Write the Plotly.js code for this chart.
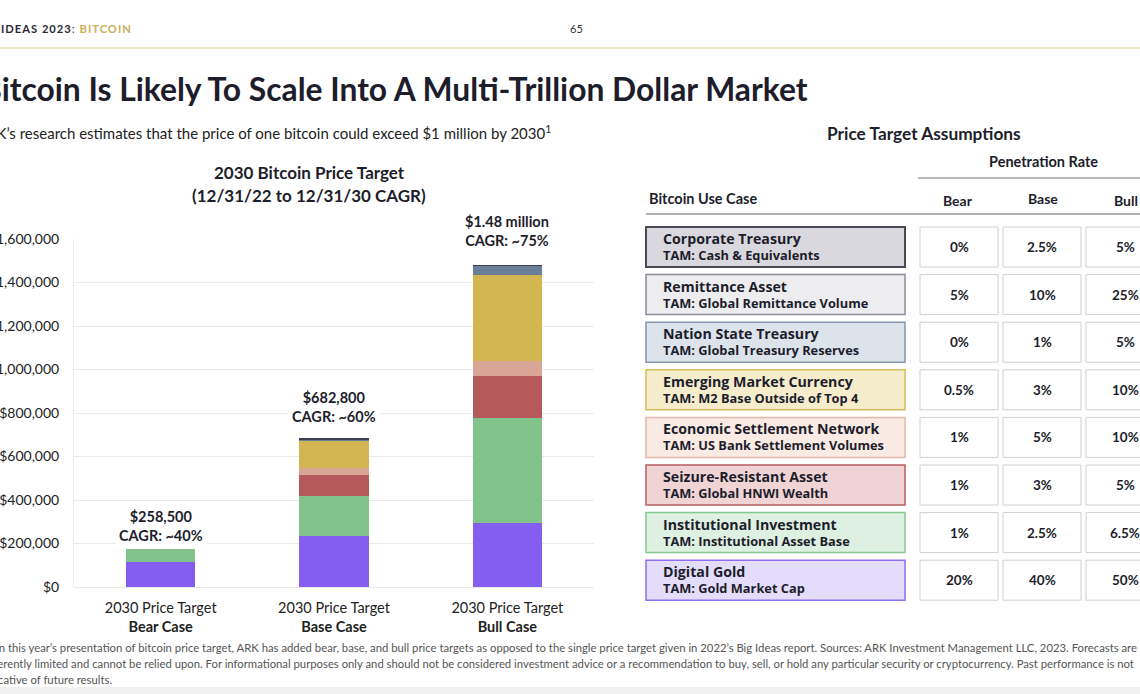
<!DOCTYPE html>
<html>
<head>
<meta charset="utf-8">
<script src="https://cdn.plot.ly/plotly-3.0.1.min.js"></script>
<style>html,body{margin:0;padding:0;background:#fff;overflow:hidden}#chart{width:1140px;height:694px}</style>
</head>
<body>
<div id="chart"></div>
<script>
// ---------- data ----------
const cases = ['Bear Case', 'Base Case', 'Bull Case'];
const caseLine1 = '2030 Price Target';
const digitalGold = [116000, 235000, 295000];
const institutional = [59000, 184000, 480000];
const seizure = [0, 95000, 194000];
const settlement = [0, 34000, 70000];
const emerging = [0, 124000, 397000];
const nationState = [0, 6000, 38000];
const corporate = [0, 5000, 8000];
const priceLabels = ['$258,500', '$682,800', '$1.48 million'];
const cagrLabels = ['CAGR: ~40%', 'CAGR: ~60%', 'CAGR: ~75%'];

const useCases = ['Corporate Treasury', 'Remittance Asset', 'Nation State Treasury', 'Emerging Market Currency',
  'Economic Settlement Network', 'Seizure-Resistant Asset', 'Institutional Investment', 'Digital Gold'];
const tams = ['TAM: Cash & Equivalents', 'TAM: Global Remittance Volume', 'TAM: Global Treasury Reserves',
  'TAM: M2 Base Outside of Top 4', 'TAM: US Bank Settlement Volumes', 'TAM: Global HNWI Wealth',
  'TAM: Institutional Asset Base', 'TAM: Gold Market Cap'];
const bearRates = ['0%', '5%', '0%', '0.5%', '1%', '1%', '1%', '20%'];
const baseRates = ['2.5%', '10%', '1%', '3%', '5%', '3%', '2.5%', '40%'];
const bullRates = ['5%', '25%', '5%', '10%', '10%', '5%', '6.5%', '50%'];

// ---------- styling ----------
const FONT = 'Lato, "Open Sans", sans-serif';
const WIDE = '"Open Sans", Lato, sans-serif';
const INK = '#1d1d2b';
const segColors = ['#845EEE', '#82C38C', '#B5595D', '#D9A596', '#D3B652', '#6B7E98', '#3C3F4F'];
const segNames = ['Digital Gold', 'Institutional Investment', 'Seizure-Resistant Asset',
  'Economic Settlement Network', 'Emerging Market Currency', 'Nation State Treasury', 'Corporate Treasury'];
const segData = [digitalGold, institutional, seizure, settlement, emerging, nationState, corporate];
const rowFill = ['#D9D8DF', '#EDEDF0', '#DCE3EB', '#F4ECCB', '#F9EAE4', '#F0D4D5', '#DEF0E1', '#E4DCFB'];
const rowLine = ['#4A4A56', '#8C8C98', '#8297AE', '#D6BA5C', '#E2B8AB', '#B85C60', '#86C690', '#8F6DF0'];
const rowLineW = [2, 1.5, 1.5, 1.5, 1.5, 1.5, 1.5, 1.5];

// plot area in pixels
const PL = 74, PR = 594, PT = 239, PB = 587;
const px = x => (x - PL) / (PR - PL);
const py = y => (PB - y) / (PB - PT);

const traces = segData.map((d, i) => ({
  type: 'bar', x: cases, y: d, name: segNames[i], width: 0.4,
  marker: {color: segColors[i], line: {width: 0}}, hoverinfo: 'skip'
}));

const totals = cases.map((c, j) => segData.reduce((s, d) => s + d[j], 0));

const shapes = [];
const ann = [];
function text(x, y, t, size, opts = {}) {
  const o = Object.assign({
    xref: 'paper', yref: 'paper', x: px(x), y: py(y), text: t, showarrow: false,
    xanchor: 'left', yanchor: 'middle'
  }, opts);
  o.font = Object.assign({family: FONT, size: size, color: INK}, opts.font || {});
  ann.push(o);
}
function rect(x0, y0, x1, y1, fill, line, lw) {
  shapes.push({type: 'rect', xref: 'paper', yref: 'paper', x0: px(x0), x1: px(x1), y0: py(y1), y1: py(y0),
    fillcolor: fill, line: {color: line, width: lw}, layer: 'above'});
}
function hline(x0, x1, y, color, w) {
  shapes.push({type: 'line', xref: 'paper', yref: 'paper', x0: px(x0), x1: px(x1), y0: py(y), y1: py(y),
    line: {color: color, width: w}});
}

// page header
hline(-10, 1150, 48, '#E8DFB5', 1.5);
text(-1, 28, '<span style="letter-spacing:1px"><b>IDEAS 2023</b>: <b><span style="color:#C8B05A">BITCOIN</span></b></span>', 11.2, {font: {color: '#2a2a35'}});
text(576, 28, '65', 11, {xanchor: 'center', font: {color: '#333'}});
text(-21, 89, '<b>Bitcoin Is Likely To Scale Into A Multi-Trillion Dollar Market</b>', 31.8);
text(-25, 132, 'ARK’s research estimates that the price of one bitcoin could exceed $1 million by 2030<sup>1</sup>', 15, {font: {color: '#222'}});

// chart titles
text(309, 172, '<b>2030 Bitcoin Price Target</b>', 17, {xanchor: 'center'});
text(309, 195, '<b>(12/31/22 to 12/31/30 CAGR)</b>', 17, {xanchor: 'center'});

// bar total labels
const labelShift = [1, 9, 11.5];
cases.forEach((c, j) => {
  ann.push({xref: 'x', yref: 'y', x: c, y: totals[j], yanchor: 'bottom', yshift: labelShift[j],
    text: '<b>' + priceLabels[j] + '<br>' + cagrLabels[j] + '</b>', showarrow: false,
    bgcolor: '#ffffff', borderpad: 3, align: 'center',
    font: {family: FONT, size: 14.5, color: INK}});
});

// table
text(924, 133, '<b>Price Target Assumptions</b>', 17.3, {xanchor: 'center'});
text(1043, 161, '<b>Penetration Rate</b>', 14.5, {xanchor: 'center'});
hline(918, 1150, 178, '#777', 1);
text(647, 199, '<b>Bitcoin Use Case</b>', 14.5);
text(958, 200, '<b>Bear</b>', 14, {xanchor: 'center'});
text(1043, 198, '<b>Base</b>', 14, {xanchor: 'center'});
text(1126, 200, '<b>Bull</b>', 14, {xanchor: 'center'});
hline(646, 1150, 214, '#666', 1);

const rowTop0 = 227, rowPitch = 47.6, rowH = 40;
const cellX = [[920, 998], [1003, 1081], [1086, 1164]];
useCases.forEach((u, i) => {
  const t = rowTop0 + i * rowPitch;
  rect(646, t, 905, t + rowH, rowFill[i], rowLine[i], rowLineW[i]);
  text(661, t + 11.5, '<b>' + u + '</b>', 14.2, {font: {family: WIDE}});
  text(661, t + 28, '<b>' + tams[i] + '</b>', 12.8, {font: {family: WIDE}});
  const vals = [bearRates[i], baseRates[i], bullRates[i]];
  cellX.forEach((cx, k) => {
    rect(cx[0], t, cx[1], t + rowH, '#ffffff', '#D0D0D0', 1);
    text((cx[0] + cx[1]) / 2, t + 20, '<b>' + vals[k] + '</b>', 13.5, {xanchor: 'center'});
  });
});

// footer
shapes.push({type: 'rect', xref: 'paper', yref: 'paper', x0: px(-10), x1: px(1150), y0: py(694), y1: py(687),
  fillcolor: '#F0F0F0', line: {width: 0}, layer: 'below'});
const footColor = '#555';
text(-13, 647, '¹ In this year’s presentation of bitcoin price target, ARK has added bear, base, and bull price targets as opposed to the single price target given in 2022’s Big Ideas report. Sources: ARK Investment Management LLC, 2023. Forecasts are', 11.3, {font: {color: footColor}});
text(-20, 663, 'inherently limited and cannot be relied upon. For informational purposes only and should not be considered investment advice or a recommendation to buy, sell, or hold any particular security or cryptocurrency. Past performance is not', 11.3, {font: {color: footColor}});
text(-22, 679, 'indicative of future results.', 11.3, {font: {color: footColor}});

const layout = {
  width: 1140, height: 694,
  margin: {l: PL, r: 1140 - PR, t: PT, b: 694 - PB, pad: 0},
  paper_bgcolor: '#ffffff', plot_bgcolor: '#ffffff',
  barmode: 'stack', showlegend: false,
  font: {family: FONT, color: INK},
  xaxis: {
    type: 'category', tickvals: cases, ticktext: cases.map(c => caseLine1 + '<br><b>' + c + '</b>'),
    ticks: 'outside', ticklen: 8, tickcolor: 'rgba(0,0,0,0)', showgrid: false, zeroline: false,
    showline: false, tickfont: {family: FONT, size: 14.5, color: '#222'}, fixedrange: true
  },
  yaxis: {
    range: [0, 1600000], dtick: 200000, tickprefix: '$', tickformat: ',d', separatethousands: true,
    ticks: 'outside', ticklen: 11, tickcolor: 'rgba(0,0,0,0)',
    gridcolor: '#E9E9E9', gridwidth: 1, zeroline: true, zerolinecolor: '#E9E9E9', zerolinewidth: 1,
    showline: true, linecolor: '#EEEEEE', linewidth: 1,
    tickfont: {family: FONT, size: 14, color: '#222'}, fixedrange: true
  },
  shapes: shapes,
  annotations: ann
};

Plotly.newPlot('chart', traces, layout, {displayModeBar: false, staticPlot: true});
</script>
</body>
</html>
